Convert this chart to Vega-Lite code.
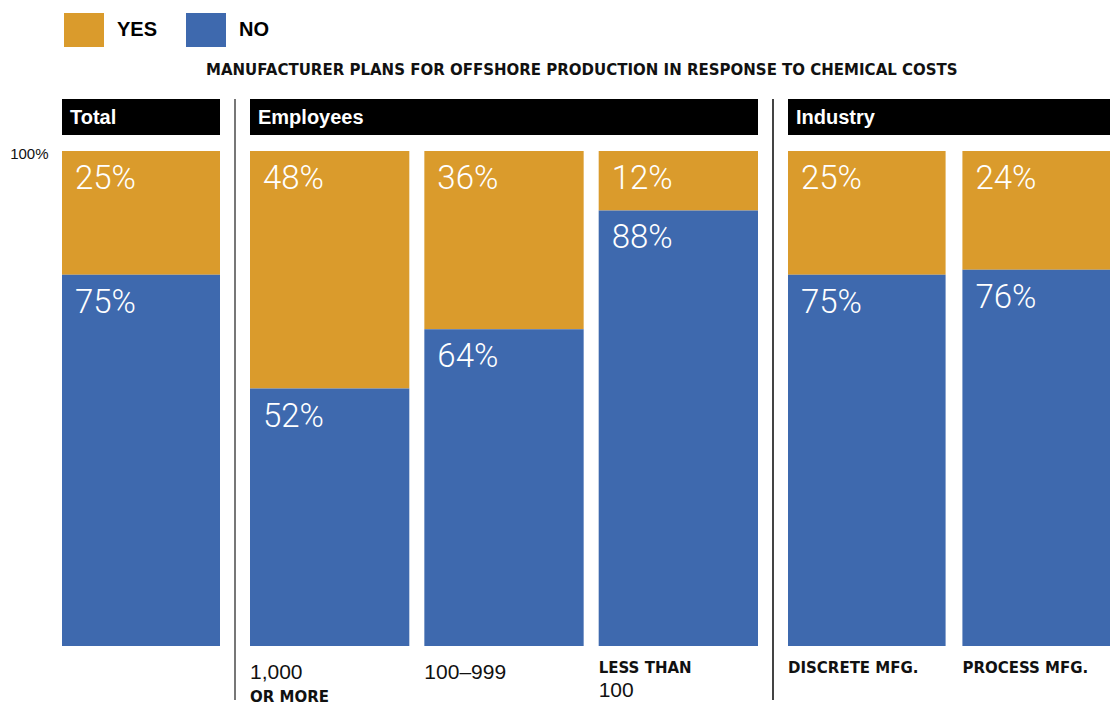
{
  "$schema": "https://vega.github.io/schema/vega-lite/v6.json",
  "background": "white",
  "padding": {"left": 9, "top": 10, "right": 0, "bottom": 0},
  "datasets": {
    "bars": [
      {"group": "Total", "cat": "Total", "answer": "YES", "share": 0.25},
      {"group": "Total", "cat": "Total", "answer": "NO", "share": 0.75},
      {"group": "Employees", "cat": "1,000 or more", "answer": "YES", "share": 0.48},
      {"group": "Employees", "cat": "1,000 or more", "answer": "NO", "share": 0.52},
      {"group": "Employees", "cat": "100–999", "answer": "YES", "share": 0.36},
      {"group": "Employees", "cat": "100–999", "answer": "NO", "share": 0.64},
      {"group": "Employees", "cat": "Less than 100", "answer": "YES", "share": 0.12},
      {"group": "Employees", "cat": "Less than 100", "answer": "NO", "share": 0.88},
      {"group": "Industry", "cat": "Discrete mfg.", "answer": "YES", "share": 0.25},
      {"group": "Industry", "cat": "Discrete mfg.", "answer": "NO", "share": 0.75},
      {"group": "Industry", "cat": "Process mfg.", "answer": "YES", "share": 0.24},
      {"group": "Industry", "cat": "Process mfg.", "answer": "NO", "share": 0.76}
    ],
    "labels": [
      {"group": "Employees", "cat": "1,000 or more", "line": 1, "style": "reg", "text": "1,000"},
      {"group": "Employees", "cat": "1,000 or more", "line": 2, "style": "bold", "text": "OR MORE"},
      {"group": "Employees", "cat": "100–999", "line": 1, "style": "reg", "text": "100–999"},
      {"group": "Employees", "cat": "Less than 100", "line": 1, "style": "bold", "text": "LESS THAN"},
      {"group": "Employees", "cat": "Less than 100", "line": 2, "style": "reg", "text": "100"},
      {"group": "Industry", "cat": "Discrete mfg.", "line": 1, "style": "bold", "text": "DISCRETE MFG."},
      {"group": "Industry", "cat": "Process mfg.", "line": 1, "style": "bold", "text": "PROCESS MFG."}
    ]
  },
  "title": {
    "text": "MANUFACTURER PLANS FOR OFFSHORE PRODUCTION IN RESPONSE TO CHEMICAL COSTS",
    "font": "DejaVu Sans", "fontWeight": "bold", "fontSize": 15, "color": "#111",
    "anchor": "middle", "baseline": "alphabetic", "offset": -80, "dx": 22
  },
  "config": {
    "view": {"stroke": null},
    "concat": {"spacing": 14}
  },
  "resolve": {"scale": {"x": "independent", "color": "shared"}},
  "hconcat": [
    {
      "spacing": 16,
      "bounds": "flush",
      "resolve": {"scale": {"x": "independent"}},
      "vconcat": [
        {
          "width": 158, "height": 36,
          "view": {"fill": "black", "stroke": null},
          "data": {"values": [{"label": "Total"}]},
          "mark": {"type": "text", "align": "left", "baseline": "middle", "dx": 8, "dy": 1, "font": "Liberation Sans", "fontWeight": "bold", "fontSize": 20, "color": "white"},
          "encoding": {
            "x": {"datum": 0, "type": "quantitative", "scale": {"domain": [0, 1]}, "axis": null},
            "text": {"field": "label"}
          }
        },
        {
          "width": 158, "height": 495,
          "layer": [
            {
              "data": {"name": "bars"},
              "transform": [{"filter": "datum.group === 'Total'"}],
              "mark": {"type": "bar"},
              "encoding": {
                "x": {"field": "cat", "type": "nominal", "scale": {"domain": ["Total"], "paddingInner": 0.0862, "paddingOuter": 0}, "axis": null},
                "y": {"field": "share", "type": "quantitative", "stack": "zero", "scale": {"domain": [0, 1], "nice": false},
                  "axis": {"values": [1], "format": ".0%", "domain": false, "ticks": false, "grid": false, "title": null, "labelFont": "Liberation Sans", "labelFontSize": 15, "labelColor": "#111", "labelPadding": 14, "labelFlush": false, "labelBaseline": "middle", "labelOffset": 2}},
                "color": {"field": "answer", "type": "nominal", "scale": {"domain": ["YES", "NO"], "range": ["#DA9B2C", "#3E69AE"]},
                  "legend": {"orient": "none", "legendX": 2, "legendY": -89, "direction": "horizontal", "title": null, "symbolType": "M-1,-0.85H1V0.85H-1Z", "symbolSize": 1600, "symbolStrokeWidth": 0, "symbolOpacity": 1, "labelFont": "Liberation Sans", "labelFontWeight": "bold", "labelFontSize": 20, "labelColor": "#000", "labelOffset": 13, "columnPadding": 28, "padding": 0}},
                "order": {"field": "answer", "sort": "ascending"}
              }
            },
            {
              "data": {"name": "bars"},
              "transform": [{"filter": "datum.group === 'Total'"}],
              "mark": {"type": "text", "align": "left", "baseline": "alphabetic", "dx": 13, "dy": 38, "font": "Roboto", "fontWeight": 300, "fontSize": 33, "color": "white"},
              "encoding": {
                "x": {"field": "cat", "type": "nominal", "bandPosition": 0},
                "y": {"field": "share", "type": "quantitative", "stack": "zero"},
                "detail": {"field": "answer"},
                "order": {"field": "answer", "sort": "ascending"},
                "text": {"field": "share", "type": "quantitative", "format": ".0%"}
              }
            }
          ]
        }
      ]
    },
    {
      "width": 2, "height": 601,
      "data": {"values": [{"s": 1}]},
      "mark": {"type": "rect", "color": "#777"},
      "encoding": {}
    },
    {
      "spacing": 16,
      "resolve": {"scale": {"x": "independent"}},
      "vconcat": [
        {
          "width": 508, "height": 36,
          "view": {"fill": "black", "stroke": null},
          "data": {"values": [{"label": "Employees"}]},
          "mark": {"type": "text", "align": "left", "baseline": "middle", "dx": 8, "dy": 1, "font": "Liberation Sans", "fontWeight": "bold", "fontSize": 20, "color": "white"},
          "encoding": {
            "x": {"datum": 0, "type": "quantitative", "scale": {"domain": [0, 1]}, "axis": null},
            "text": {"field": "label"}
          }
        },
        {
          "width": 508, "height": 495,
          "layer": [
            {
              "data": {"name": "bars"},
              "transform": [{"filter": "datum.group === 'Employees'"}],
              "mark": {"type": "bar"},
              "encoding": {
                "x": {"field": "cat", "type": "nominal", "scale": {"domain": ["1,000 or more", "100–999", "Less than 100"], "paddingInner": 0.0862, "paddingOuter": 0}, "axis": null},
                "y": {"field": "share", "type": "quantitative", "stack": "zero", "scale": {"domain": [0, 1], "nice": false}, "axis": null},
                "color": {"field": "answer", "type": "nominal", "scale": {"domain": ["YES", "NO"], "range": ["#DA9B2C", "#3E69AE"]}},
                "order": {"field": "answer", "sort": "ascending"}
              }
            },
            {
              "data": {"name": "bars"},
              "transform": [{"filter": "datum.group === 'Employees'"}],
              "mark": {"type": "text", "align": "left", "baseline": "alphabetic", "dx": 13, "dy": 38, "font": "Roboto", "fontWeight": 300, "fontSize": 33, "color": "white"},
              "encoding": {
                "x": {"field": "cat", "type": "nominal", "bandPosition": 0},
                "y": {"field": "share", "type": "quantitative", "stack": "zero"},
                "detail": {"field": "answer"},
                "order": {"field": "answer", "sort": "ascending"},
                "text": {"field": "share", "type": "quantitative", "format": ".0%"}
              }
            },
            {
              "data": {"name": "labels"},
              "transform": [{"filter": "datum.group === 'Employees' && datum.line === 1 && datum.style === 'reg'"}],
              "mark": {"type": "text", "align": "left", "baseline": "alphabetic", "dy": 33, "font": "Liberation Sans", "fontSize": 21, "color": "#111"},
              "encoding": {
                "x": {"field": "cat", "type": "nominal", "bandPosition": 0},
                "y": {"datum": 0, "type": "quantitative"},
                "text": {"field": "text"}
              }
            },
            {
              "data": {"name": "labels"},
              "transform": [{"filter": "datum.group === 'Employees' && datum.line === 1 && datum.style === 'bold'"}],
              "mark": {"type": "text", "align": "left", "baseline": "alphabetic", "dy": 27, "font": "DejaVu Sans", "fontWeight": "bold", "fontSize": 15, "color": "#111"},
              "encoding": {
                "x": {"field": "cat", "type": "nominal", "bandPosition": 0},
                "y": {"datum": 0, "type": "quantitative"},
                "text": {"field": "text"}
              }
            },
            {
              "data": {"name": "labels"},
              "transform": [{"filter": "datum.group === 'Employees' && datum.line === 2 && datum.style === 'reg'"}],
              "mark": {"type": "text", "align": "left", "baseline": "alphabetic", "dy": 51, "font": "Liberation Sans", "fontSize": 21, "color": "#111"},
              "encoding": {
                "x": {"field": "cat", "type": "nominal", "bandPosition": 0},
                "y": {"datum": 0, "type": "quantitative"},
                "text": {"field": "text"}
              }
            },
            {
              "data": {"name": "labels"},
              "transform": [{"filter": "datum.group === 'Employees' && datum.line === 2 && datum.style === 'bold'"}],
              "mark": {"type": "text", "align": "left", "baseline": "alphabetic", "dy": 56, "font": "DejaVu Sans", "fontWeight": "bold", "fontSize": 15, "color": "#111"},
              "encoding": {
                "x": {"field": "cat", "type": "nominal", "bandPosition": 0},
                "y": {"datum": 0, "type": "quantitative"},
                "text": {"field": "text"}
              }
            }
          ]
        }
      ]
    },
    {
      "width": 2, "height": 601,
      "data": {"values": [{"s": 1}]},
      "mark": {"type": "rect", "color": "#444"},
      "encoding": {}
    },
    {
      "spacing": 16,
      "resolve": {"scale": {"x": "independent"}},
      "vconcat": [
        {
          "width": 322, "height": 36,
          "view": {"fill": "black", "stroke": null},
          "data": {"values": [{"label": "Industry"}]},
          "mark": {"type": "text", "align": "left", "baseline": "middle", "dx": 8, "dy": 1, "font": "Liberation Sans", "fontWeight": "bold", "fontSize": 20, "color": "white"},
          "encoding": {
            "x": {"datum": 0, "type": "quantitative", "scale": {"domain": [0, 1]}, "axis": null},
            "text": {"field": "label"}
          }
        },
        {
          "width": 322, "height": 495,
          "layer": [
            {
              "data": {"name": "bars"},
              "transform": [{"filter": "datum.group === 'Industry'"}],
              "mark": {"type": "bar", "clip": true},
              "encoding": {
                "x": {"field": "cat", "type": "nominal", "scale": {"domain": ["Discrete mfg.", "Process mfg."], "range": [0, 332], "paddingInner": 0.0964, "paddingOuter": 0}, "axis": null},
                "y": {"field": "share", "type": "quantitative", "stack": "zero", "scale": {"domain": [0, 1], "nice": false}, "axis": null},
                "color": {"field": "answer", "type": "nominal", "scale": {"domain": ["YES", "NO"], "range": ["#DA9B2C", "#3E69AE"]}},
                "order": {"field": "answer", "sort": "ascending"}
              }
            },
            {
              "data": {"name": "bars"},
              "transform": [{"filter": "datum.group === 'Industry'"}],
              "mark": {"type": "text", "align": "left", "baseline": "alphabetic", "dx": 13, "dy": 38, "font": "Roboto", "fontWeight": 300, "fontSize": 33, "color": "white"},
              "encoding": {
                "x": {"field": "cat", "type": "nominal", "bandPosition": 0},
                "y": {"field": "share", "type": "quantitative", "stack": "zero"},
                "detail": {"field": "answer"},
                "order": {"field": "answer", "sort": "ascending"},
                "text": {"field": "share", "type": "quantitative", "format": ".0%"}
              }
            },
            {
              "data": {"name": "labels"},
              "transform": [{"filter": "datum.group === 'Industry'"}],
              "mark": {"type": "text", "align": "left", "baseline": "alphabetic", "dy": 27, "font": "DejaVu Sans", "fontWeight": "bold", "fontSize": 15, "color": "#111"},
              "encoding": {
                "x": {"field": "cat", "type": "nominal", "bandPosition": 0},
                "y": {"datum": 0, "type": "quantitative"},
                "text": {"field": "text"}
              }
            }
          ]
        }
      ]
    }
  ]
}
